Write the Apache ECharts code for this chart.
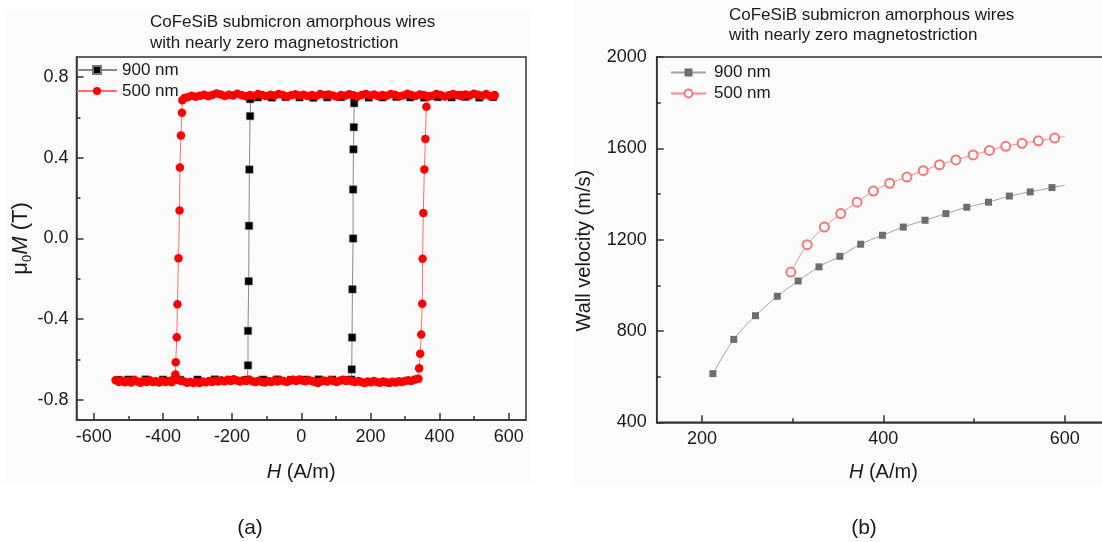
<!DOCTYPE html>
<html><head><meta charset="utf-8">
<script src="https://cdn.jsdelivr.net/npm/echarts@6/dist/echarts.min.js"></script>
<style>html,body{margin:0;padding:0;background:#fff}#c{width:1102px;height:542px}</style>
</head><body><div id="c"></div>
<script>
const FONT = '"Liberation Sans", Arial, sans-serif';
const titleLines = ['CoFeSiB submicron amorphous wires', 'with nearly zero magnetostriction'];
const panelLabels = ['(a)', '(b)'];
const legendNames = { L900: '900 nm', L500: '500 nm', R900: '900 nm', R500: '500 nm' };

// ---------- (a) hysteresis loops: [H (A/m), mu0 M (T)] ----------
const loopTicksX = [-600, -400, -200, 0, 200, 400, 600];
const loopMinorX = [-500, -300, -100, 100, 300, 500];
const loopTicksY = [-0.8, -0.4, 0, 0.4, 0.8];
const loopMinorY = [-0.6, -0.2, 0.2, 0.6];

const black900Top = [[555,0.701],[515,0.699],[475,0.702],[435,0.700],[395,0.701],[355,0.699],[315,0.700],[275,0.702],[235,0.700],[195,0.699],[155,0.700],[115,0.701],[75,0.700],[35,0.698],[-5,0.700],[-45,0.701],[-85,0.699],[-125,0.700],[-146,0.699]];
const black900Left = [[-148,0.691],[-148,0.607],[-150,0.342],[-151,0.063],[-152,-0.212],[-154,-0.458],[-154,-0.629]];
const black900Bottom = [[-156,-0.700],[-200,-0.701],[-250,-0.699],[-300,-0.700],[-350,-0.701],[-400,-0.700],[-450,-0.699],[-500,-0.700],[-530,-0.701],[-110,-0.700],[-70,-0.699],[-30,-0.701],[10,-0.700],[50,-0.699],[90,-0.700],[130,-0.701],[145,-0.700]];
const black900Right = [[146,-0.649],[147,-0.491],[148,-0.252],[150,0.0],[150,0.243],[151,0.442],[152,0.552],[153,0.671],[154,0.700]];

const red500Top = [[559,0.712],[547,0.705],[535,0.716],[523,0.708],[511,0.713],[499,0.718],[487,0.709],[475,0.714],[463,0.706],[451,0.711],[439,0.717],[427,0.710],[415,0.704],[403,0.712],[391,0.716],[379,0.708],[367,0.703],[355,0.711],[343,0.714],[331,0.707],[319,0.712],[307,0.718],[295,0.709],[283,0.705],[271,0.713],[259,0.716],[247,0.708],[235,0.711],[223,0.706],[211,0.714],[199,0.709],[187,0.717],[175,0.711],[163,0.704],[151,0.710],[139,0.715],[127,0.708],[115,0.712],[103,0.703],[91,0.709],[79,0.714],[67,0.711],[55,0.716],[43,0.707],[31,0.712],[19,0.706],[7,0.713],[-5,0.709],[-17,0.715],[-29,0.710],[-41,0.704],[-53,0.712],[-65,0.717],[-77,0.709],[-89,0.713],[-101,0.706],[-113,0.711],[-125,0.716],[-137,0.708],[-149,0.712],[-161,0.705],[-173,0.711],[-185,0.718],[-197,0.709],[-209,0.713],[-221,0.707],[-233,0.714],[-245,0.719],[-257,0.711],[-269,0.706],[-281,0.713],[-293,0.708],[-305,0.703],[-317,0.708],[-329,0.700],[-338,0.697]];
const red500Left = [[-344,0.686],[-345,0.623],[-348,0.511],[-351,0.352],[-352,0.139],[-355,-0.098],[-358,-0.326],[-360,-0.490],[-363,-0.614],[-364,-0.674]];
const red500Bottom = [[-372,-0.702],[-537,-0.703],[-528,-0.712],[-519,-0.704],[-510,-0.713],[-501,-0.707],[-492,-0.714],[-483,-0.701],[-474,-0.709],[-465,-0.715],[-456,-0.706],[-447,-0.711],[-438,-0.703],[-429,-0.712],[-420,-0.708],[-411,-0.714],[-402,-0.705],[-393,-0.711],[-384,-0.707],[-375,-0.713],[-366,-0.702],[-357,-0.698],[-348,-0.706],[-339,-0.709],[-330,-0.715],[-321,-0.711],[-312,-0.717],[-303,-0.712],[-294,-0.716],[-285,-0.709],[-276,-0.713],[-267,-0.707],[-258,-0.711],[-249,-0.705],[-240,-0.709],[-231,-0.703],[-222,-0.708],[-213,-0.700],[-204,-0.706],[-195,-0.698],[-186,-0.704],[-177,-0.709],[-168,-0.703],[-159,-0.707],[-150,-0.701],[-141,-0.708],[-132,-0.712],[-123,-0.705],[-114,-0.710],[-105,-0.714],[-96,-0.706],[-87,-0.711],[-78,-0.704],[-69,-0.709],[-60,-0.703],[-51,-0.707],[-42,-0.712],[-33,-0.705],[-24,-0.701],[-15,-0.706],[-6,-0.699],[3,-0.704],[12,-0.708],[21,-0.702],[30,-0.707],[39,-0.711],[48,-0.716],[57,-0.708],[66,-0.704],[75,-0.709],[84,-0.702],[93,-0.707],[102,-0.711],[111,-0.705],[120,-0.701],[129,-0.706],[138,-0.703],[147,-0.708],[156,-0.712],[165,-0.707],[174,-0.711],[183,-0.716],[192,-0.709],[201,-0.713],[210,-0.707],[219,-0.711],[228,-0.715],[237,-0.709],[246,-0.713],[255,-0.717],[264,-0.710],[273,-0.714],[282,-0.708],[291,-0.712],[300,-0.707],[309,-0.703],[318,-0.706],[327,-0.700],[335,-0.697]];
const red500Right = [[339,-0.695],[341,-0.644],[344,-0.572],[347,-0.476],[350,-0.323],[351,-0.101],[353,0.127],[356,0.342],[359,0.494],[362,0.653]];
const red500TopReturn = [[370,0.705],[460,0.712],[559,0.709]];

// ---------- (b) wall velocity vs H ----------
const velTicksX = [200, 400, 600];
const velMinorX = [300, 500];
const velTicksY = [400, 800, 1200, 1600, 2000];
const velMinorY = [600, 1000, 1400, 1800];
const velH900 = [212, 235, 259, 283, 306, 329, 352, 375, 399, 422, 446, 469, 492, 516, 539, 562, 586];
const vel900  = [613, 763, 867, 952, 1019, 1081, 1127, 1180, 1219, 1255, 1285, 1314, 1342, 1364, 1391, 1409, 1428];
const curveEnd900 = [600, 1438];
const velH500 = [298, 316, 335, 353, 371, 389, 407, 426, 444, 462, 480, 499, 517, 535, 553, 571, 589];
const vel500  = [1058, 1178, 1255, 1314, 1364, 1413, 1447, 1474, 1502, 1528, 1549, 1571, 1591, 1609, 1622, 1633, 1645];
const curveEnd500 = [600, 1651];

// ---------- build ----------
const AX = '#333';
const TXT = '#1a1a1a';
function mainAxis(gridIndex, min, max, ticks, fmt, margin, extra) {
  return Object.assign({
    gridIndex, type: 'value', min, max,
    axisLine: { show: true, onZero: false, lineStyle: { color: AX, width: 1.5 } },
    axisTick: { show: true, inside: true, length: 7, customValues: ticks, lineStyle: { color: AX, width: 1.5 } },
    axisLabel: { show: true, customValues: ticks, formatter: fmt, fontSize: 18, fontFamily: FONT, color: TXT, margin },
    splitLine: { show: false }, minorTick: { show: false }
  }, extra);
}
function minorAxis(gridIndex, min, max, ticks, position) {
  return {
    gridIndex, type: 'value', min, max, position,
    axisLine: { show: false, onZero: false },
    axisTick: { show: true, inside: true, length: 4, customValues: ticks, lineStyle: { color: AX, width: 1.5 } },
    axisLabel: { show: false }, splitLine: { show: false }
  };
}
function nameStyle(size, sub) {
  return {
    fontFamily: FONT, fontSize: size, color: TXT, lineHeight: size + 4,
    rich: {
      i: { fontFamily: FONT, fontSize: size, fontStyle: 'italic', color: TXT, lineHeight: size + 4, verticalAlign: 'middle' },
      n: { fontFamily: FONT, fontSize: size, color: TXT, lineHeight: size + 4, verticalAlign: 'middle' },
      s: { fontFamily: FONT, fontSize: sub, color: TXT, lineHeight: sub, verticalAlign: 'bottom' }
    }
  };
}

const loop900 = black900Top.concat(black900Left, black900Bottom, black900Right);
const loop500 = red500Top.concat(red500Left, red500Bottom, red500Right, red500TopReturn);
const v900 = velH900.map((h, i) => [h, vel900[i]]).concat([{ value: curveEnd900, symbol: 'none' }]);
const v500 = velH500.map((h, i) => [h, vel500[i]]).concat([{ value: curveEnd500, symbol: 'none' }]);

const chart = echarts.init(document.getElementById('c'), null, { renderer: 'canvas' });
chart.setOption({
  animation: false,
  backgroundColor: '#ffffff',
  title: [
    { text: titleLines.join('\n'), left: 150, top: 12, padding: 0,
      textStyle: { fontFamily: FONT, fontSize: 17, lineHeight: 21, fontWeight: 'normal', color: TXT } },
    { text: titleLines.join('\n'), left: 729, top: 5, padding: 0,
      textStyle: { fontFamily: FONT, fontSize: 17, lineHeight: 20, fontWeight: 'normal', color: TXT } }
  ],
  graphic: [
    { type: 'rect', z: -10, silent: true, shape: { x: 5, y: 10, width: 526, height: 473 }, style: { fill: '#fbfbfb' } },
    { type: 'rect', z: -10, silent: true, shape: { x: 573, y: 0, width: 529, height: 485 }, style: { fill: '#fbfbfb' } },
    { type: 'text', x: 250, y: 528, style: { text: panelLabels[0], fontFamily: FONT, fontSize: 21, fill: TXT, textAlign: 'center', textVerticalAlign: 'middle' } },
    { type: 'text', x: 864, y: 528, style: { text: panelLabels[1], fontFamily: FONT, fontSize: 21, fill: TXT, textAlign: 'center', textVerticalAlign: 'middle' } }
  ],
  grid: [
    { left: 76.5, top: 57, width: 449.5, height: 363, show: true, borderColor: AX, borderWidth: 1.5, backgroundColor: 'transparent', containLabel: false, outerBoundsMode: 'none' },
    { left: 656.7, top: 57, width: 453.3, height: 365.3, show: true, borderColor: AX, borderWidth: 1.5, backgroundColor: 'transparent', containLabel: false, outerBoundsMode: 'none' }
  ],
  legend: [
    { data: ['L900', 'L500'], formatter: n => legendNames[n], orient: 'vertical', left: 76, top: 60,
      itemWidth: 40, itemHeight: 10, itemGap: 1, padding: 0, selectedMode: false,
      textStyle: { fontFamily: FONT, fontSize: 17, color: TXT, lineHeight: 20, padding: [0, 0, 0, 0] } },
    { data: ['R900', 'R500'], formatter: n => legendNames[n], orient: 'vertical', left: 670, top: 62.5,
      itemWidth: 35, itemHeight: 10, itemGap: 1, padding: 0, selectedMode: false,
      textStyle: { fontFamily: FONT, fontSize: 17, color: TXT, lineHeight: 20, padding: [0, 0, 0, 3] } }
  ],
  xAxis: [
    mainAxis(0, -650, 650, loopTicksX, v => String(v), 8,
      { position: 'bottom', name: '{i|H}{n| (A/m)}', nameLocation: 'middle', nameGap: 40, nameTextStyle: nameStyle(20, 12) }),
    minorAxis(0, -650, 650, loopMinorX, 'bottom'),
    mainAxis(1, 150, 650, velTicksX, v => String(v), 8,
      { position: 'bottom', name: '{i|H}{n| (A/m)}', nameLocation: 'middle', nameGap: 38, nameTextStyle: nameStyle(20, 12) }),
    minorAxis(1, 150, 650, velMinorX, 'bottom')
  ],
  yAxis: [
    mainAxis(0, -0.9, 0.9, loopTicksY, v => v.toFixed(1), 8,
      { position: 'left', name: '{n|μ}{s|0}{i|M}{n| (T)}', nameLocation: 'middle', nameGap: 40, nameRotate: 90, nameTextStyle: nameStyle(22, 13) }),
    minorAxis(0, -0.9, 0.9, loopMinorY, 'left'),
    mainAxis(1, 400, 2000, velTicksY, v => String(v), 10,
      { position: 'left', name: 'Wall velocity (m/s)', nameLocation: 'middle', nameGap: 60, nameRotate: 90,
        nameTextStyle: Object.assign({}, nameStyle(20, 12), { padding: [0, 22, 0, 0] }) }),
    minorAxis(1, 400, 2000, velMinorY, 'left')
  ],
  series: [
    { name: 'L900', type: 'line', xAxisIndex: 0, yAxisIndex: 0, data: loop900, z: 2,
      symbol: 'rect', symbolSize: 7.5, itemStyle: { color: '#000', borderColor: '#777', borderWidth: 0.5 },
      lineStyle: { color: '#8a8a8a', width: 1 }, emphasis: { disabled: true } },
    { name: 'L500', type: 'line', xAxisIndex: 0, yAxisIndex: 0, data: loop500, z: 3,
      symbol: 'circle', symbolSize: 8.5, itemStyle: { color: '#ff0000' },
      lineStyle: { color: '#ff6d6d', width: 1 }, emphasis: { disabled: true } },
    { name: 'R900', type: 'line', xAxisIndex: 2, yAxisIndex: 2, data: v900, smooth: 0.35,
      symbol: 'rect', symbolSize: 7, itemStyle: { color: '#6e6e6e' },
      lineStyle: { color: '#a3a3a3', width: 1 }, emphasis: { disabled: true } },
    { name: 'R500', type: 'line', xAxisIndex: 2, yAxisIndex: 2, data: v500, smooth: 0.35,
      symbol: 'emptyCircle', symbolSize: 9, itemStyle: { color: '#f27878', borderWidth: 1 },
      lineStyle: { color: '#f58a8a', width: 1 }, emphasis: { disabled: true } }
  ]
});
</script></body></html>
